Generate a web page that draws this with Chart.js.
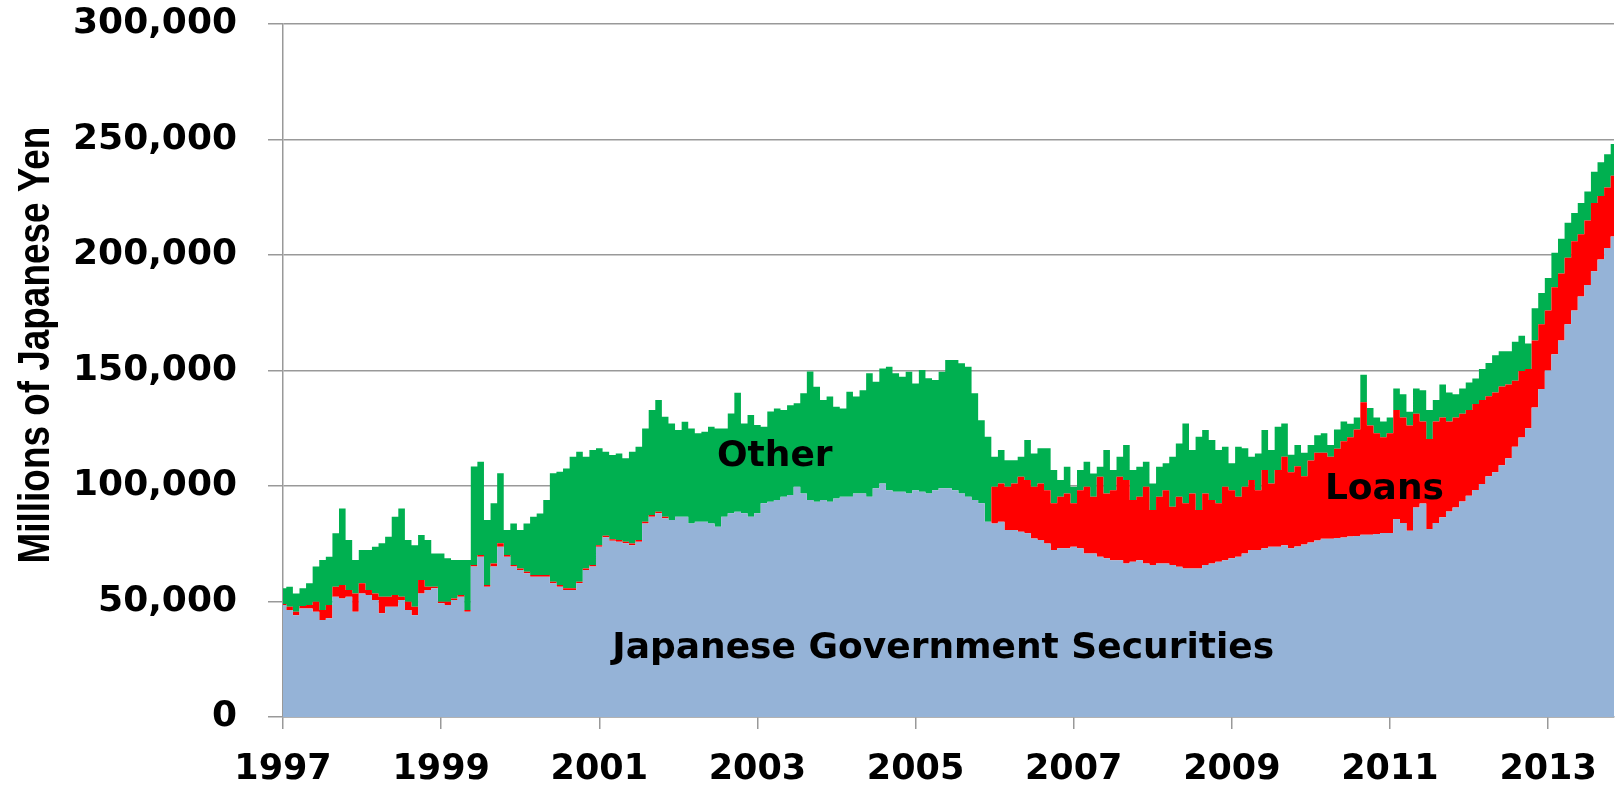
<!DOCTYPE html>
<html>
<head>
<meta charset="utf-8">
<script src="https://cdn.jsdelivr.net/npm/chart.js@4.4.1/dist/chart.umd.min.js"></script>
<style>
  html, body { margin: 0; padding: 0; background: #fff; }
  #wrap { width: 1618px; height: 787px; position: relative; }
</style>
</head>
<body>
<div id="wrap"><canvas id="bojChart"></canvas></div>
<script>
// monthly readings, Jan 1997 .. Nov 2013
const startYear = 1997;
const tickYears = [1997, 1999, 2001, 2003, 2005, 2007, 2009, 2011, 2013];

const jgs = [
  48500, 46300, 44100, 47000, 47000, 45600, 42000, 42700, 52100, 51300, 52100, 45600,
  53500, 52800, 50600, 44900, 47700, 47700, 50600, 46300, 44100, 53500, 55000, 55700,
  49200, 48500, 50600, 52100, 45600, 65100, 69400, 56400, 65100, 73700, 69400, 65100,
  63600, 62200, 60700, 60700, 60700, 57900, 56400, 55000, 55000, 57900, 63600, 65100,
  73700, 77800, 76300, 75900, 75200, 74400, 75900, 83800, 86700, 88200, 86000, 85300,
  86700, 86700, 83800, 84500, 84500, 83800, 82400, 86700, 88200, 88900, 88200, 86700,
  88200, 92500, 93200, 93900, 95400, 96100, 99700, 96800, 93900, 93200, 93900, 93200,
  94600, 95400, 95400, 96800, 96800, 95400, 99000, 101100, 98200, 97500, 97500, 96800,
  98200, 97500, 96800, 98200, 99000, 99000, 98200, 96800, 95400, 93900, 92500, 84500,
  83800, 84500, 80900, 80900, 80200, 79500, 77300, 76600, 75100, 72300, 73000, 73000,
  73700, 73000, 70800, 70800, 69400, 68700, 67900, 67900, 66500, 67200, 67900, 66500,
  65800, 66500, 66500, 65800, 65000, 64300, 64300, 64300, 65800, 66500, 67200, 67900,
  68700, 69400, 70800, 72300, 72300, 73000, 73700, 73700, 74400, 73000, 73800, 74700,
  75500, 76400, 77200, 77200, 77500, 77700, 78100, 78400, 78900, 78900, 79200, 79700,
  79700, 85700, 84000, 80600, 90700, 92400, 81400, 84000, 86500, 89000, 90700, 93300,
  95800, 98300, 100900, 104200, 106000, 109000, 112000, 117000, 121000, 125000, 134000, 142000,
  150000, 157000, 163000, 170000, 176000, 182000, 187000, 193000, 198000, 203000, 208000
];

const loans = [
  400, 1400, 1500, 1000, 1500, 4300, 4300, 5800, 4300, 5800, 2900, 7900,
  4400, 2200, 2900, 7200, 4400, 5100, 1500, 3600, 3600, 5800, 1400, 700,
  700, 1400, 700, 700, 700, 700, 700, 700, 1400, 1500, 700, 700,
  700, 700, 800, 800, 800, 700, 700, 700, 700, 700, 700, 700,
  700, 700, 700, 700, 700, 700, 700, 700, 700, 700, 700, 0,
  0, 0, 0, 0, 0, 0, 0, 0, 0, 0, 0, 0,
  0, 0, 0, 0, 0, 0, 0, 0, 0, 0, 0, 0,
  0, 0, 0, 0, 0, 0, 0, 0, 0, 0, 0, 0,
  0, 0, 0, 0, 0, 0, 0, 0, 0, 0, 0, 0,
  15900, 16600, 18800, 20200, 23800, 23100, 22400, 24500, 23100, 20200, 22400, 23800,
  18800, 25200, 28900, 24600, 34600, 28100, 30300, 36100, 36100, 26700, 27500, 33200,
  23800, 28900, 31700, 25200, 30400, 28200, 32500, 25300, 31000, 27400, 25300, 31800,
  29500, 26000, 28900, 30300, 25900, 33900, 27400, 33200, 38300, 32900, 34700, 29500,
  35500, 38000, 37200, 35500, 38600, 41700, 43000, 46100, 57400, 47300, 43600, 41400,
  43100, 47200, 45600, 45600, 40600, 35500, 38900, 43900, 43100, 38900, 38900, 38000,
  37100, 37200, 36300, 34700, 34500, 34100, 31900, 28600, 28800, 25700, 29000, 28000,
  26000, 29000, 29000, 28800, 30000, 27000, 27900, 29500, 27500, 26200, 26300
];

const other = [
  6800, 8700, 7900, 7700, 9400, 15200, 21700, 20900, 23100, 33200, 21600, 14500,
  14400, 17300, 20200, 23100, 25900, 33900, 38200, 26700, 26700, 19500, 20200, 14400,
  20900, 18800, 16700, 15200, 21700, 42600, 40400, 28200, 26000, 30300, 10800, 18000,
  16600, 20900, 25200, 26600, 32400, 46900, 49100, 51900, 57000, 56200, 48400, 49800,
  41900, 36300, 36400, 37500, 36100, 39700, 40400, 40400, 45500, 48300, 43300, 41800,
  37500, 41100, 41100, 38300, 39000, 41900, 42500, 38200, 43200, 51500, 38900, 44000,
  38200, 33200, 39000, 39700, 37500, 38900, 36100, 43300, 55700, 49800, 43300, 45500,
  39700, 38200, 45400, 41900, 44700, 53400, 46100, 49800, 53400, 51300, 49800, 52700,
  46200, 52700, 49800, 47700, 50500, 55500, 56300, 56300, 56200, 46200, 36000, 36800,
  13000, 14500, 11500, 10100, 8700, 17300, 14400, 15200, 18100, 14400, 7200, 11500,
  7200, 8700, 10800, 10000, 4300, 18800, 8700, 8700, 15100, 13000, 12900, 10800,
  11500, 12900, 11600, 21700, 23000, 34600, 18800, 31700, 27400, 26000, 23100, 17300,
  11600, 21600, 16600, 10100, 15900, 17300, 14500, 18800, 14400, 7600, 9200, 10200,
  6700, 7600, 8400, 5000, 8400, 8500, 5900, 5100, 11900, 7600, 6800, 6800,
  6800, 9300, 10100, 5900, 10900, 13500, 12600, 9300, 14300, 12600, 10100, 10900,
  11900, 11000, 13500, 14300, 16100, 15200, 14400, 16900, 15200, 11000, 13900, 13600,
  14000, 15000, 15000, 15200, 12200, 13500, 12600, 13500, 14700, 14400, 13800
];

// text inside the areas, placed in data units
const areaLabels = [
  { text: 'Other', x: 2003.22, y: 108700 },
  { text: 'Loans', x: 2010.93, y: 94200 },
  { text: 'Japanese Government Securities', x: 2005.35, y: 25500 }
];
const yTitle = 'Millions of Japanese Yen';

const gridColor = '#999999';
const mainFont = "'DejaVu Sans', Verdana, sans-serif";

const toPoints = arr => arr.map((v, i) => ({ x: startYear + i / 12, y: v }));

const textPlugin = {
  id: 'textPlugin',
  afterDatasetsDraw(chart) {
    const ctx = chart.ctx;
    const xs = chart.scales.x, ys = chart.scales.y;
    ctx.save();
    ctx.fillStyle = '#000';
    ctx.font = 'bold 36px ' + mainFont;
    ctx.textAlign = 'center';
    ctx.textBaseline = 'alphabetic';
    areaLabels.forEach(l => {
      ctx.fillText(l.text, xs.getPixelForValue(l.x), ys.getPixelForValue(l.y));
    });
    // axis title, narrow bold like the original
    ctx.font = "bold 45px 'Liberation Sans', Arial, sans-serif";
    ctx.translate(49, 345);
    ctx.rotate(-Math.PI / 2);
    ctx.scale(0.82, 1);
    ctx.fillText(yTitle, 0, 0);
    ctx.restore();
  }
};

Chart.defaults.font.family = mainFont;
Chart.defaults.font.weight = 'bold';
Chart.defaults.color = '#000';

const lastX = startYear + (jgs.length - 1) / 12;

function area(label, values, color, fill) {
  return {
    label: label,
    data: toPoints(values),
    backgroundColor: color,
    borderColor: 'rgba(0,0,0,0)',
    borderWidth: 1,
    pointRadius: 0,
    stepped: 'middle',
    fill: fill
  };
}

new Chart(document.getElementById('bojChart'), {
  type: 'line',
  data: {
    datasets: [
      area('Japanese Government Securities', jgs, '#95B3D7', 'origin'),
      area('Loans', loans, '#FF0000', '-1'),
      area('Other', other, '#00B050', '-1')
    ]
  },
  options: {
    responsive: true,
    maintainAspectRatio: false,
    animation: false,
    layout: {
      padding: { top: 24, right: 4, left: 0, bottom: 0 }
    },
    plugins: {
      legend: { display: false },
      tooltip: { enabled: false }
    },
    scales: {
      x: {
        type: 'linear',
        min: startYear,
        max: lastX,
        afterBuildTicks: axis => {
          axis.ticks = tickYears.map(v => ({ value: v }));
        },
        afterFit: axis => { axis.height = 70; },
        ticks: {
          autoSkip: false,
          maxRotation: 0,
          padding: 20,
          font: { size: 35, weight: 'bold' },
          callback: v => String(v)
        },
        grid: {
          drawOnChartArea: false,
          drawTicks: true,
          tickLength: 12,
          color: gridColor,
          lineWidth: 1.5
        },
        border: { color: gridColor, width: 1.5 }
      },
      y: {
        stacked: true,
        min: 0,
        max: 300000,
        afterFit: axis => {
          axis.width = 283;
          axis.paddingTop = 0;
          axis.paddingBottom = 0;
        },
        ticks: {
          stepSize: 50000,
          padding: 31,
          font: { size: 36, weight: 'bold' },
          callback: v => v.toLocaleString('en-US')
        },
        grid: {
          color: gridColor,
          lineWidth: 1.5,
          tickLength: 15
        },
        border: { color: gridColor, width: 1.5 }
      }
    }
  },
  plugins: [textPlugin]
});
</script>
</body>
</html>
